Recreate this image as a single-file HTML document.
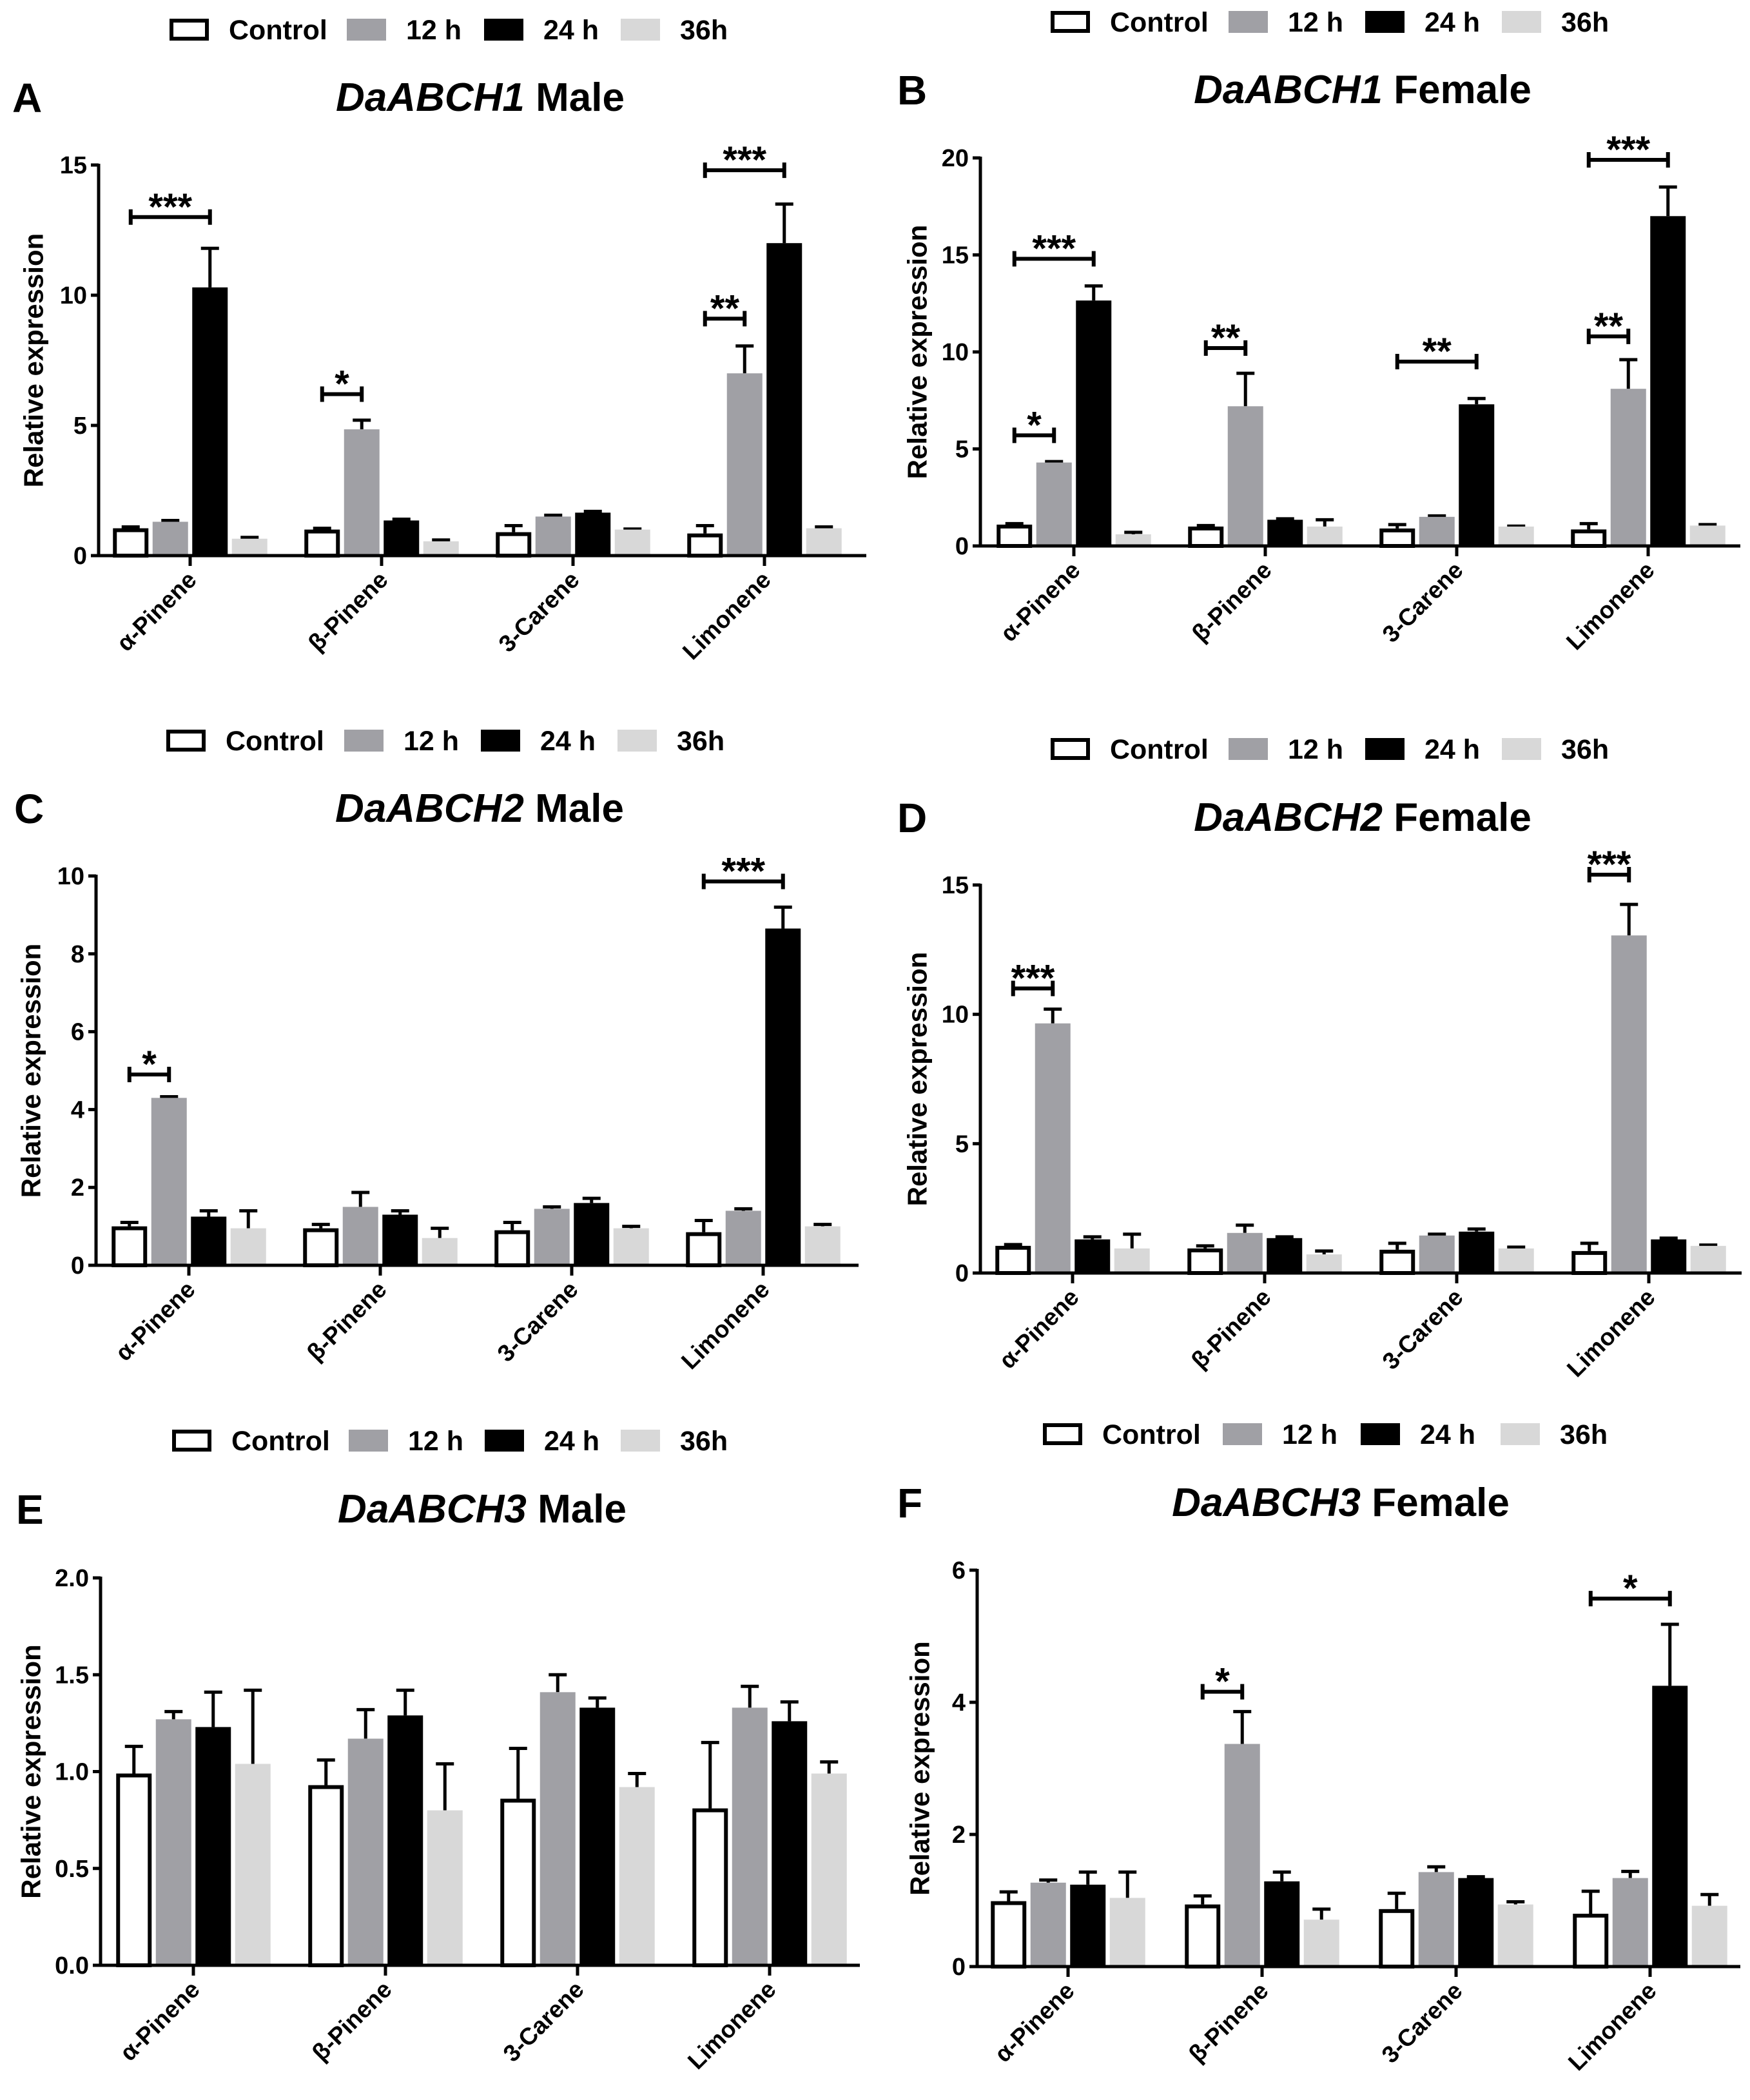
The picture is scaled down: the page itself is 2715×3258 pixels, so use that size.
<!DOCTYPE html>
<html><head><meta charset="utf-8">
<style>
html,body{margin:0;padding:0;background:#fff;}
svg{display:block;font-family:"Liberation Sans",Arial,sans-serif;font-weight:bold;}
</style></head>
<body>
<svg id="fig" width="2715" height="3258" viewBox="0 0 2715 3258" xmlns="http://www.w3.org/2000/svg"></svg>
<script>
// ---- shared data ----
const categories = ["α-Pinene", "β-Pinene", "3-Carene", "Limonene"];
const seriesNames = ["Control", "12 h", "24 h", "36h"];

// Panel A: DaABCH1 Male
const aControl = [1.05, 1.0, 0.9, 0.85];
const a12h = [1.3, 4.85, 1.5, 7.0];
const a24h = [10.3, 1.35, 1.65, 12.0];
const a36h = [0.65, 0.55, 1.0, 1.05];
const aControlErr = [1.1, 1.05, 1.15, 1.15];
const a12hErr = [1.35, 5.2, 1.55, 8.05];
const a24hErr = [11.8, 1.4, 1.7, 13.5];
const a36hErr = [0.7, 0.6, 1.02, 1.1];
const aTicks = [0, 5, 10, 15];
const aSig = [[0,0,2,13.0,"***"],[1,0,1,6.2,"*"],[3,0,1,9.1,"**"],[3,0,2,14.8,"***"]];

// Panel B: DaABCH1 Female
const bControl = [1.1, 1.0, 0.9, 0.85];
const b12h = [4.3, 7.2, 1.5, 8.1];
const b24h = [12.65, 1.35, 7.3, 17.0];
const b36h = [0.6, 1.0, 1.0, 1.05];
const bControlErr = [1.15, 1.05, 1.1, 1.15];
const b12hErr = [4.35, 8.9, 1.55, 9.6];
const b24hErr = [13.4, 1.4, 7.6, 18.5];
const b36hErr = [0.7, 1.35, 1.02, 1.1];
const bTicks = [0, 5, 10, 15, 20];
const bSig = [[0,0,1,5.7,"*"],[0,0,2,14.8,"***"],[1,0,1,10.2,"**"],[2,0,2,9.5,"**"],[3,0,1,10.8,"**"],[3,0,2,19.9,"***"]];

// Panel C: DaABCH2 Male
const cControl = [1.0, 0.95, 0.9, 0.85];
const c12h = [4.3, 1.5, 1.45, 1.4];
const c24h = [1.25, 1.3, 1.6, 8.65];
const c36h = [0.95, 0.7, 0.95, 1.0];
const cControlErr = [1.1, 1.05, 1.1, 1.15];
const c12hErr = [4.33, 1.87, 1.5, 1.45];
const c24hErr = [1.4, 1.4, 1.72, 9.2];
const c36hErr = [1.4, 0.95, 1.0, 1.05];
const cTicks = [0, 2, 4, 6, 8, 10];
const cSig = [[0,0,1,4.9,"*"],[3,0,2,9.86,"***"]];

// Panel D: DaABCH2 Female
const dControl = [1.05, 0.95, 0.9, 0.85];
const d12h = [9.65, 1.55, 1.45, 13.05];
const d24h = [1.3, 1.35, 1.6, 1.3];
const d36h = [0.95, 0.72, 0.95, 1.05];
const dControlErr = [1.1, 1.05, 1.15, 1.15];
const d12hErr = [10.2, 1.85, 1.5, 14.25];
const d24hErr = [1.4, 1.4, 1.7, 1.35];
const d36hErr = [1.5, 0.85, 1.0, 1.08];
const dTicks = [0, 5, 10, 15];
const dSig = [[0,0,1,11.0,"***"],[3,0,1,15.4,"***"]];

// Panel E: DaABCH3 Male
const eControl = [0.99, 0.93, 0.86, 0.81];
const e12h = [1.27, 1.17, 1.41, 1.33];
const e24h = [1.23, 1.29, 1.33, 1.26];
const e36h = [1.04, 0.80, 0.92, 0.99];
const eControlErr = [1.13, 1.06, 1.12, 1.15];
const e12hErr = [1.31, 1.32, 1.50, 1.44];
const e24hErr = [1.41, 1.42, 1.38, 1.36];
const e36hErr = [1.42, 1.04, 0.99, 1.05];
const eTicks = [0.0, 0.5, 1.0, 1.5, 2.0];
const eSig = [];

// Panel F: DaABCH3 Female
const fControl = [0.99, 0.94, 0.87, 0.80];
const f12h = [1.27, 3.37, 1.43, 1.34];
const f24h = [1.24, 1.29, 1.34, 4.25];
const f36h = [1.04, 0.71, 0.94, 0.92];
const fControlErr = [1.13, 1.07, 1.11, 1.14];
const f12hErr = [1.31, 3.86, 1.51, 1.44];
const f24hErr = [1.43, 1.43, 1.36, 5.18];
const f36hErr = [1.43, 0.87, 0.98, 1.09];
const fTicks = [0, 2, 4, 6];
const fSig = [[1,0,1,4.16,"*"],[3,0,2,5.57,"*"]];

// ---- layout (pixel geometry, not data) ----
const fills = ["#ffffff", "#a0a0a5", "#000000", "#d8d8d8"];
const panels = [
 {id:"a", letter:"A", gene:"DaABCH1", sex:"Male", ax:153, y0:862, ytop:256, ymax:15, right:1344, cat0:295, catStep:297, legY:46, legX:[263,538,751,963], titleX:745, titleY:172, letterX:19, ytX:52,
  vals:[aControl,a12h,a24h,a36h], errs:[aControlErr,a12hErr,a24hErr,a36hErr], ticks:aTicks, sig:aSig},
 {id:"b", letter:"B", gene:"DaABCH1", sex:"Female", ax:1521, y0:847, ytop:245, ymax:20, right:2700, cat0:1666, catStep:297, legY:34, legX:[1630,1906,2118,2330], titleX:2114, titleY:160, letterX:1392, ytX:1423,
  vals:[bControl,b12h,b24h,b36h], errs:[bControlErr,b12hErr,b24hErr,b36hErr], ticks:bTicks, sig:bSig},
 {id:"c", letter:"C", gene:"DaABCH2", sex:"Male", ax:149, y0:1963, ytop:1359, ymax:10, right:1332, cat0:293, catStep:297, legY:1149, legX:[258,534,746,958], titleX:744, titleY:1275, letterX:22, ytX:48,
  vals:[cControl,c12h,c24h,c36h], errs:[cControlErr,c12hErr,c24hErr,c36hErr], ticks:cTicks, sig:cSig},
 {id:"d", letter:"D", gene:"DaABCH2", sex:"Female", ax:1521, y0:1975, ytop:1373, ymax:15, right:2702, cat0:1664, catStep:298, legY:1162, legX:[1630,1906,2118,2330], titleX:2114, titleY:1289, letterX:1392, ytX:1423,
  vals:[dControl,d12h,d24h,d36h], errs:[dControlErr,d12hErr,d24hErr,d36hErr], ticks:dTicks, sig:dSig},
 {id:"e", letter:"E", gene:"DaABCH3", sex:"Male", ax:156, y0:3049, ytop:2448, ymax:2.0, right:1334, cat0:300, catStep:298, legY:2235, legX:[267,541,752,963], titleX:748, titleY:2362, letterX:25, ytX:48,
  vals:[eControl,e12h,e24h,e36h], errs:[eControlErr,e12hErr,e24hErr,e36hErr], ticks:eTicks, sig:eSig, dec:1},
 {id:"f", letter:"F", gene:"DaABCH3", sex:"Female", ax:1516, y0:3051, ytop:2436, ymax:6, right:2700, cat0:1657, catStep:301, legY:2225, legX:[1618,1897,2111,2328], titleX:2080, titleY:2352, letterX:1392, ytX:1427,
  vals:[fControl,f12h,f24h,f36h], errs:[fControlErr,f12hErr,f24hErr,f36hErr], ticks:fTicks, sig:fSig}
];

const NS = "http://www.w3.org/2000/svg";
const svg = document.getElementById("fig");
function mk(tag, attrs, parent, txt){
  const e = document.createElementNS(NS, tag);
  for (const k in attrs) e.setAttribute(k, attrs[k]);
  if (txt !== undefined) e.textContent = txt;
  (parent || svg).appendChild(e);
  return e;
}

const SLOT = 61.5, BW = 55;
panels.forEach(p => {
  const g = mk("g", {});
  
  
  const yScale = v => p.y0 - (v / p.ymax) * (p.y0 - p.ytop);
  const catX = i => p.cat0 + i * p.catStep;
  const barX = (i, s) => catX(i) + (s - 1.5) * SLOT;

  // legend
  const lg = mk("g", {}, g);
  
  
  seriesNames.forEach((n, s) => {
    const x = p.legX[s];
    const sw = mk("rect", {x: x + (s===0?3:0), y: p.legY - 17 + (s===0?3:0), width: s===0?55:61, height: s===0?28:34, fill: fills[s], stroke: s===0?"#000":"none", "stroke-width": 6}, lg);
    
    
    const t = mk("text", {x: x + 92, y: p.legY + 15, "font-size": 43}, lg, n);
    
    
  });

  // panel letter and title
  const L = mk("text", {x: p.letterX, y: p.titleY + 2, "font-size": 64}, g, p.letter);
  
  
  const T = mk("text", {x: p.titleX, y: p.titleY, "font-size": 62, "text-anchor": "middle"}, g);
  
  
  mk("tspan", {"font-style": "italic"}, T, p.gene);
  mk("tspan", {}, T, " " + p.sex);

  // y axis title
  const ym = (p.y0 + p.ytop) / 2;
  const YT = mk("text", {x: p.ytX, y: ym, "font-size": 42, "text-anchor": "middle", "dominant-baseline": "central", transform: `rotate(-90 ${p.ytX} ${ym})`}, g, "Relative expression");
  
  

  // bars
  p.vals.forEach((arr, s) => {
    arr.forEach((v, i) => {
      const x = barX(i, s), top = yScale(v), errTop = yScale(p.errs[s][i]);
      const cx = x;
      const e = mk("path", {d: `M${cx} ${top} V${errTop} M${cx-14} ${errTop} H${cx+14}`, stroke: "#000", "stroke-width": 5, fill: "none"}, g);
      
      
      let r;
      if (s === 0) {
        r = mk("rect", {x: x - BW/2 + 3, y: top + 3, width: BW - 6, height: Math.max(0, p.y0 - top - 3), fill: "#fff", stroke: "#000", "stroke-width": 6}, g);
      } else {
        r = mk("rect", {x: x - BW/2, y: top, width: BW, height: p.y0 - top, fill: fills[s]}, g);
      }
      
      
    });
  });

  // axes
  const ya = mk("line", {x1: p.ax, y1: p.ytop - 2, x2: p.ax, y2: p.y0 + 2, stroke: "#000", "stroke-width": 5}, g);
  
  
  const xa = mk("line", {x1: p.ax - 12, y1: p.y0, x2: p.right, y2: p.y0, stroke: "#000", "stroke-width": 5}, g);
  
  

  p.ticks.forEach(t => {
    const y = yScale(t);
    const tk = mk("line", {x1: p.ax - 12, y1: y, x2: p.ax, y2: y, stroke: "#000", "stroke-width": 5}, g);
    
    
    const tl = mk("text", {x: p.ax - 18, y: y + 13, "font-size": 38, "text-anchor": "end"}, g, p.dec ? t.toFixed(1) : String(t));
    
    
  });

  categories.forEach((c, i) => {
    const x = catX(i);
    const tk = mk("line", {x1: x, y1: p.y0, x2: x, y2: p.y0 + 16, stroke: "#000", "stroke-width": 5}, g);
    
    
    const lx = x + 12, ly = p.y0 + 40;
    const tl = mk("text", {x: lx, y: ly, "font-size": 37, "text-anchor": "end", transform: `rotate(-45 ${lx} ${ly})`}, g, c);
    
    
  });

  // significance brackets
  p.sig.forEach(sg => {
    const [cat, s1, s2, lvl, stars] = sg;
    const x1 = barX(cat, s1), x2 = barX(cat, s2), y = yScale(lvl);
    const b = mk("path", {d: `M${x1} ${y-12} V${y+12} M${x1} ${y} H${x2} M${x2} ${y-12} V${y+12}`, stroke: "#000", "stroke-width": 6, fill: "none"}, g);
    
    
    const st = mk("text", {x: (x1 + x2) / 2, y: y + 4, "font-size": 58, "text-anchor": "middle"}, g, stars);
    
    
  });
});
</script>
</body></html>
